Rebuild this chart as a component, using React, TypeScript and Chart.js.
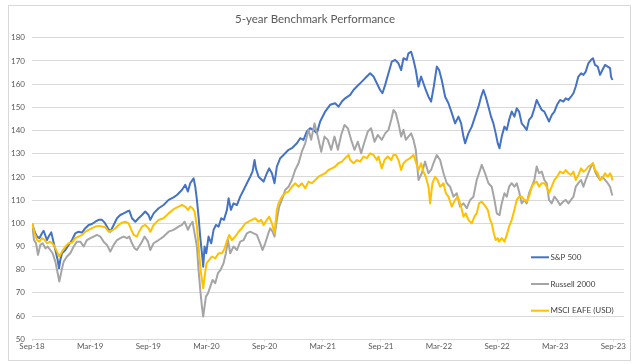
import { useEffect, useRef } from 'react';
import { Chart, registerables } from 'chart.js';

Chart.register(...registerables);

const chartTitle = '5-year Benchmark Performance';

// x axis: months since end of Sep 2018
const xTickMonths = [0, 6, 12, 18, 24, 30, 36, 42, 48, 54, 60];
const xTickLabels = ['Sep-18', 'Mar-19', 'Sep-19', 'Mar-20', 'Sep-20', 'Mar-21', 'Sep-21', 'Mar-22', 'Sep-22', 'Mar-23', 'Sep-23'];
const yMin = 50;
const yMax = 180;
const yStep = 10;

const seriesNames = ['S&P 500', 'Russell 2000', 'MSCI EAFE (USD)'];
const seriesColors = ['#4472C4', '#A5A5A5', '#FFC000'];

const spxMonths = [
  0, 0.28, 0.52, 0.76, 1.03, 1.2, 1.55, 1.72, 1.99, 2.17, 2.41, 2.65, 2.79, 2.92, 3.1, 3.44, 3.78, 4.13, 4.47, 4.81,
  5.16, 5.5, 5.85, 6.19, 6.53, 6.88, 7.22, 7.5, 7.84, 8.08, 8.43, 8.77, 9.11, 9.46, 9.8, 10.04, 10.32, 10.66, 11.0,
  11.35, 11.69, 12.03, 12.21, 12.55, 13.07, 13.58, 14.1, 14.61, 14.96, 15.47, 15.82, 16.09, 16.33, 16.68, 16.85,
  17.02, 17.19, 17.36, 17.54, 17.67, 17.81, 17.98, 18.22, 18.5, 18.74, 18.98, 19.26, 19.53, 19.81, 20.12, 20.29,
  20.53, 20.8, 21.15, 21.49, 21.84, 22.18, 22.52, 22.76, 22.97, 23.11, 23.38, 23.9, 24.24, 24.48, 24.76, 25.03,
  25.27, 25.62, 25.96, 26.48, 26.82, 27.34, 27.68, 28.02, 28.37, 28.71, 29.06, 29.4, 29.74, 30.26, 30.77, 31.29,
  31.63, 31.98, 32.32, 32.84, 33.18, 33.53, 34.04, 34.56, 34.9, 35.25, 35.59, 35.93, 36.17, 36.45, 36.79, 37.13,
  37.48, 37.82, 38.1, 38.34, 38.68, 38.85, 39.13, 39.37, 39.61, 39.89, 40.16, 40.4, 40.64, 40.92, 41.19, 41.47,
  41.78, 42.02, 42.29, 42.64, 42.98, 43.33, 43.67, 44.01, 44.29, 44.53, 44.7, 45.04, 45.39, 45.73, 46.08, 46.35,
  46.59, 46.83, 47.11, 47.38, 47.62, 47.86, 48.07, 48.25, 48.48, 48.76, 49.0, 49.24, 49.51, 49.79, 50.03, 50.27,
  50.54, 50.82, 51.06, 51.3, 51.58, 51.85, 52.09, 52.33, 52.61, 52.88, 53.12, 53.36, 53.64, 53.92, 54.19, 54.5,
  54.84, 55.08, 55.36, 55.63, 55.88, 56.12, 56.39, 56.67, 56.91, 57.15, 57.42, 57.7, 57.9, 58.11, 58.39, 58.63,
  58.87, 59.14, 59.42, 59.66, 59.76, 59.9,
];
const spxValues = [
  100, 96.4, 94.3, 93.6, 95.7, 96.8, 92.8, 94.3, 96.1, 92.8, 88.5, 84.2, 80.6, 84.2, 87.1, 88.5, 90.7, 92.8, 95.7, 96.4,
  96.0, 97.9, 99.3, 99.7, 100.7, 101.5, 101.5, 100.3, 97.9, 96.4, 99.3, 102.2, 103.6, 104.3, 105.1, 105.5, 102.2, 100.7, 102.2,
  103.6, 105.1, 103.6, 101.5, 104.3, 106.5, 107.9, 110.1, 111.2, 112.2, 114.4, 116.6, 113.7, 117.3, 119.4, 115.8,
  110.1, 102.9, 94.3, 87.1, 81.3, 90.0, 87.1, 94.3, 91.4, 97.2, 99.3, 98.6, 102.2, 101.5, 105.8, 110.8,
  105.8, 108.6, 107.9, 111.5, 114.4, 117.3, 120.1, 122.3, 127.3, 123.7, 120.1, 118.0, 121.6, 123.7, 121.6, 117.3,
  124.5, 128.1, 129.5, 131.7, 132.4, 134.5, 136.7, 136.0, 139.6, 141.0, 140.3, 138.8, 143.9, 148.2, 151.1, 151.8,
  150.3, 152.5, 153.9, 155.4, 157.5, 159.0, 161.1, 163.3, 164.7, 163.3, 160.4, 157.5, 156.1, 159.7, 164.7, 169.7,
  170.5, 169.0, 166.1, 171.2, 170.5, 173.3, 174.0, 170.5, 166.1, 159.0, 163.3, 160.4, 157.5, 154.6, 152.5, 159.0,
  167.6, 166.1, 161.8, 154.6, 151.8, 147.5, 143.1, 146.0, 143.1, 137.4, 134.5, 138.8, 141.7, 146.0, 150.3, 154.6,
  157.5, 154.6, 150.3, 146.0, 143.1, 138.8, 134.5, 132.4, 137.4, 141.7, 140.3, 144.6, 148.2, 146.0, 149.6, 148.2,
  143.1, 141.7, 140.3, 144.6, 146.0, 149.6, 153.2, 151.1, 148.9, 148.2, 146.0, 143.9, 146.7, 148.2, 151.1, 153.2,
  152.5, 153.9, 153.2, 154.6, 156.1, 159.0, 163.3, 164.7, 164.0, 165.4, 169.0, 170.5, 171.2, 168.3, 167.6, 164.0,
  166.1, 168.3, 167.6, 166.9, 163.3, 161.8,
];

const rutMonths = [
  0, 0.21, 0.41, 0.62, 0.86, 1.1, 1.38, 1.62, 1.89, 2.13, 2.41, 2.65, 2.82, 3.03, 3.27, 3.61, 3.95, 4.3, 4.64, 4.99,
  5.33, 5.67, 6.02, 6.36, 6.71, 7.05, 7.39, 7.74, 8.08, 8.43, 8.77, 9.11, 9.46, 9.8, 10.04, 10.32, 10.59, 10.83,
  11.35, 11.62, 11.97, 12.21, 12.55, 13.07, 13.58, 14.1, 14.61, 15.13, 15.47, 15.75, 16.09, 16.33, 16.57, 16.78,
  17.02, 17.19, 17.4, 17.54, 17.67, 17.81, 17.95, 18.16, 18.4, 18.64, 18.91, 19.19, 19.46, 19.77, 20.01, 20.22,
  20.46, 20.8, 21.15, 21.49, 21.84, 22.18, 22.52, 22.87, 23.21, 23.55, 23.79, 24.07, 24.34, 24.58, 24.83, 25.03,
  25.27, 25.51, 25.79, 26.13, 26.48, 26.82, 27.16, 27.51, 27.85, 28.2, 28.54, 28.81, 29.16, 29.5, 29.85, 30.19,
  30.53, 30.88, 31.22, 31.57, 31.91, 32.25, 32.6, 32.94, 33.29, 33.63, 33.97, 34.32, 34.66, 35.0, 35.35, 35.69,
  36.1, 36.45, 36.79, 37.07, 37.31, 37.55, 37.82, 38.1, 38.34, 38.58, 38.85, 39.13, 39.37, 39.61, 39.89, 40.23,
  40.57, 40.92, 41.19, 41.43, 41.78, 42.12, 42.47, 42.81, 43.15, 43.5, 43.84, 44.18, 44.53, 44.87, 45.22, 45.56,
  45.9, 46.25, 46.42, 46.76, 47.11, 47.45, 47.73, 47.97, 48.25, 48.48, 48.76, 49.0, 49.24, 49.51, 49.79, 50.03,
  50.27, 50.54, 50.82, 51.06, 51.3, 51.58, 51.85, 52.09, 52.33, 52.61, 52.88, 53.12, 53.36, 53.64, 53.92, 54.19,
  54.5, 54.84, 55.08, 55.36, 55.63, 55.88, 56.12, 56.39, 56.67, 56.91, 57.15, 57.42, 57.7, 57.9, 58.11, 58.39,
  58.63, 58.87, 59.14, 59.42, 59.66, 59.83, 59.9,
];
const rutValues = [
  100, 92.8, 91.4, 86.4, 90.7, 91.4, 89.2, 90.0, 88.5, 87.1, 83.5, 78.5, 74.9, 79.2, 83.5, 85.7, 87.1, 90.0, 92.1, 92.1,
  90.0, 92.8, 93.6, 94.3, 95.0, 94.3, 92.1, 90.7, 87.8, 90.7, 92.8, 93.6, 94.3, 93.6, 94.3, 91.4, 89.2, 88.5,
  92.1, 94.3, 92.1, 88.5, 91.4, 92.8, 94.3, 96.4, 97.2, 98.6, 99.3, 100.7, 97.2, 99.3, 100.7, 95.7,
  90.0, 79.9, 69.8, 64.1, 59.8, 64.1, 68.4, 69.8, 72.7, 75.6, 74.2, 78.5, 79.9, 82.8, 87.1, 92.8,
  87.1, 90.0, 88.5, 92.1, 92.8, 95.7, 96.4, 95.7, 95.0, 91.4, 88.5, 91.4, 95.0, 97.9, 96.4, 94.3,
  101.5, 107.2, 110.1, 114.4, 115.8, 118.7, 123.0, 125.9, 130.9, 134.5, 140.3, 136.0, 143.1, 137.4, 130.9, 137.4,
  136.0, 131.7, 137.4, 131.7, 138.1, 142.4, 141.0, 136.0, 131.7, 135.2, 130.2, 135.2, 139.6, 141.0, 135.2, 138.1,
  136.0, 138.8, 140.3, 144.6, 148.9, 147.5, 143.1, 137.4, 140.3, 136.0, 137.4, 138.8, 136.0, 131.7, 118.7, 121.6,
  126.6, 121.6, 123.0, 125.9, 129.5, 127.3, 121.6, 117.3, 115.8, 111.5, 113.0, 107.2, 108.6, 106.5, 110.1, 111.5,
  118.7, 123.0, 125.2, 121.6, 117.3, 115.8, 110.1, 104.3, 103.5, 108.6, 113.0, 111.5, 115.8, 117.3, 115.8, 117.3,
  113.7, 108.6, 110.1, 108.6, 113.0, 115.8, 118.7, 124.5, 121.6, 122.3, 118.7, 117.3, 110.1, 108.6, 111.5, 110.1,
  107.9, 109.4, 110.1, 108.6, 110.1, 111.5, 115.8, 117.3, 118.7, 115.8, 118.7, 121.6, 124.5, 125.9, 122.3, 120.1,
  118.7, 120.1, 118.7, 117.3, 115.8, 113.0, 112.0,
];

const eafeMonths = [
  0, 0.28, 0.52, 0.76, 1.03, 1.31, 1.55, 1.89, 2.24, 2.58, 2.82, 3.1, 3.44, 3.78, 4.13, 4.47, 4.81, 5.16, 5.5, 5.85,
  6.19, 6.53, 6.88, 7.22, 7.57, 7.91, 8.25, 8.6, 8.94, 9.29, 9.63, 9.97, 10.25, 10.49, 10.83, 11.0, 11.35, 11.69,
  12.03, 12.21, 12.55, 13.07, 13.58, 14.1, 14.61, 15.13, 15.47, 15.82, 16.09, 16.33, 16.57, 16.78, 17.02, 17.19,
  17.4, 17.54, 17.67, 17.81, 18.02, 18.29, 18.57, 18.91, 19.26, 19.6, 19.88, 20.15, 20.36, 20.63, 20.98, 21.32,
  21.66, 22.01, 22.35, 22.7, 23.04, 23.38, 23.66, 23.9, 24.24, 24.48, 24.76, 25.03, 25.27, 25.44, 25.79, 26.13,
  26.48, 26.82, 27.16, 27.51, 27.85, 28.2, 28.54, 28.88, 29.23, 29.57, 29.92, 30.26, 30.6, 30.95, 31.29, 31.63,
  31.98, 32.32, 32.67, 32.84, 33.18, 33.53, 33.87, 34.21, 34.56, 34.9, 35.25, 35.59, 35.76, 36.1, 36.38, 36.72,
  37.07, 37.31, 37.55, 37.82, 38.1, 38.34, 38.68, 39.03, 39.37, 39.61, 39.89, 40.16, 40.4, 40.64, 40.92, 41.09,
  41.33, 41.61, 41.85, 42.12, 42.47, 42.71, 42.98, 43.33, 43.67, 43.94, 44.29, 44.53, 44.77, 45.04, 45.39, 45.66,
  45.9, 46.14, 46.42, 46.7, 47.04, 47.28, 47.45, 47.66, 47.86, 48.07, 48.21, 48.48, 48.76, 49.0, 49.24, 49.51,
  49.79, 50.03, 50.27, 50.54, 50.82, 51.06, 51.3, 51.58, 51.85, 52.09, 52.33, 52.61, 52.88, 53.12, 53.36, 53.64,
  53.92, 54.19, 54.5, 54.84, 55.08, 55.36, 55.63, 55.88, 56.12, 56.39, 56.67, 56.91, 57.15, 57.42, 57.7, 57.9,
  58.11, 58.39, 58.63, 58.87, 59.14, 59.42, 59.66, 59.83, 59.9,
];
const eafeValues = [
  100, 95.7, 92.8, 92.1, 93.6, 92.8, 91.4, 92.1, 90.7, 87.8, 85.7, 87.8, 90.0, 91.4, 91.7, 93.6, 94.3, 95.0, 96.4, 97.2,
  97.9, 98.6, 98.9, 98.6, 98.3, 96.4, 96.9, 97.9, 99.3, 100.3, 100.7, 100.0, 97.2, 95.0, 94.3, 96.0, 98.6, 99.3,
  97.9, 96.4, 99.3, 101.5, 102.2, 104.3, 106.1, 107.2, 107.9, 107.2, 105.8, 107.2, 106.5, 105.1, 98.6, 90.0,
  79.9, 75.6, 72.0, 77.0, 82.8, 84.2, 85.7, 84.9, 87.1, 87.1, 89.2, 92.8, 95.0, 92.8, 94.3, 96.4,
  97.9, 100.0, 100.7, 101.5, 102.2, 100.7, 101.5, 99.3, 101.5, 102.9, 100.0, 95.7, 105.8, 108.6, 111.5, 113.0,
  113.7, 115.8, 117.3, 115.8, 117.3, 115.1, 118.0, 117.3, 118.7, 120.1, 120.9, 121.6, 123.0, 123.7, 124.5, 125.9,
  126.6, 128.1, 129.5, 127.3, 125.9, 127.3, 126.6, 128.8, 128.1, 130.2, 129.5, 127.3, 128.8, 123.7, 127.3, 128.8,
  127.3, 129.5, 129.5, 127.3, 123.0, 125.9, 127.3, 128.1, 129.5, 126.6, 123.0, 125.9, 122.3, 120.1, 115.8, 108.6,
  117.3, 120.1, 118.7, 115.8, 117.3, 113.0, 111.5, 107.2, 110.1, 111.5, 107.2, 102.9, 104.3, 101.5, 100.0, 102.9,
  104.3, 108.6, 109.4, 107.9, 105.8, 101.5, 100.0, 95.7, 92.8, 93.6, 92.1, 93.6, 92.1, 95.0, 98.6, 101.5,
  105.8, 110.1, 111.5, 111.5, 110.1, 109.4, 111.5, 115.8, 117.3, 118.0, 115.8, 117.3, 117.3, 115.8, 113.0, 115.8,
  118.7, 120.1, 122.3, 121.6, 123.0, 121.6, 120.9, 122.3, 118.7, 120.9, 123.7, 122.3, 123.0, 124.5, 125.2, 125.9,
  123.0, 121.6, 118.7, 119.4, 121.6, 120.1, 121.6, 120.1, 118.5,
];

const toPoints = (xs: number[], ys: number[]) => xs.map((x, i) => ({ x, y: ys[i] }));

const FONT = 'Lato, "Open Sans", sans-serif';

const decorPlugin = {
  id: 'decor',
  beforeDraw(chart: any) {
    const { ctx, width, height } = chart;
    ctx.save();
    ctx.fillStyle = '#ffffff';
    ctx.fillRect(0, 0, width, height);
    ctx.strokeStyle = '#d9d9d9';
    ctx.lineWidth = 1;
    ctx.strokeRect(8.5, 5.5, 622, 355);
    ctx.restore();
  },
  afterDraw(chart: any) {
    const { ctx } = chart;
    ctx.save();
    ctx.fillStyle = '#595959';
    ctx.font = `11.5px ${FONT}`;
    ctx.textAlign = 'center';
    ctx.textBaseline = 'middle';
    ctx.fillText(chartTitle, 315, 19.5);

    const legendY = [257.3, 284, 310.7];
    chart.data.datasets.forEach((ds: any, i: number) => {
      const y = legendY[i];
      ctx.strokeStyle = ds.borderColor;
      ctx.lineWidth = 2;
      ctx.beginPath();
      ctx.moveTo(531, y);
      ctx.lineTo(549, y);
      ctx.stroke();
      ctx.fillStyle = '#404040';
      ctx.font = `8px ${FONT}`;
      ctx.textAlign = 'left';
      ctx.textBaseline = 'middle';
      ctx.fillText(ds.label, 550.5, y);
    });
    ctx.restore();
  },
};

export default function App() {
  const canvasRef = useRef<HTMLCanvasElement | null>(null);

  useEffect(() => {
    const canvas = canvasRef.current;
    if (!canvas) return;
    const chart = new Chart(canvas, {
      type: 'line',
      data: {
        datasets: [
          { label: seriesNames[0], data: toPoints(spxMonths, spxValues), borderColor: seriesColors[0], order: 2 },
          { label: seriesNames[1], data: toPoints(rutMonths, rutValues), borderColor: seriesColors[1], order: 1 },
          { label: seriesNames[2], data: toPoints(eafeMonths, eafeValues), borderColor: seriesColors[2], order: 0 },
        ].map((d) => ({ ...d, borderWidth: 2, pointRadius: 0, fill: false, tension: 0, borderJoinStyle: 'round' as const })),
      },
      options: {
        responsive: false,
        animation: false,
        events: [],
        layout: { padding: { top: 37.8, right: 16, bottom: 0, left: 0 } },
        plugins: { legend: { display: false }, title: { display: false }, tooltip: { enabled: false } },
        scales: {
          x: {
            type: 'linear',
            min: 0,
            max: 61.1,
            afterBuildTicks: (s: any) => {
              s.ticks = xTickMonths.map((v) => ({ value: v }));
            },
            afterFit: (s: any) => {
              s.height = 24.7;
            },
            ticks: {
              autoSkip: false,
              maxRotation: 0,
              minRotation: 0,
              padding: 0,
              color: '#595959',
              font: { family: FONT, size: 8 },
              callback: (_v: any, i: number) => xTickLabels[i],
            },
            grid: { drawOnChartArea: false, drawTicks: true, tickLength: 2, color: '#d9d9d9' },
            border: { color: '#d9d9d9' },
          },
          y: {
            min: yMin,
            max: yMax,
            afterFit: (s: any) => {
              s.width = 32;
            },
            ticks: { stepSize: yStep, padding: 7, color: '#595959', font: { family: FONT, size: 8 } },
            grid: { color: '#d9d9d9', drawTicks: false },
            border: { display: false },
          },
        },
      },
      plugins: [decorPlugin],
    });
    return () => chart.destroy();
  }, []);

  return (
    <div style={{ position: 'fixed', left: 0, top: 0, width: 640, height: 364, background: '#fff' }}>
      <canvas ref={canvasRef} width={640} height={364} style={{ width: 640, height: 364, display: 'block' }} />
    </div>
  );
}
